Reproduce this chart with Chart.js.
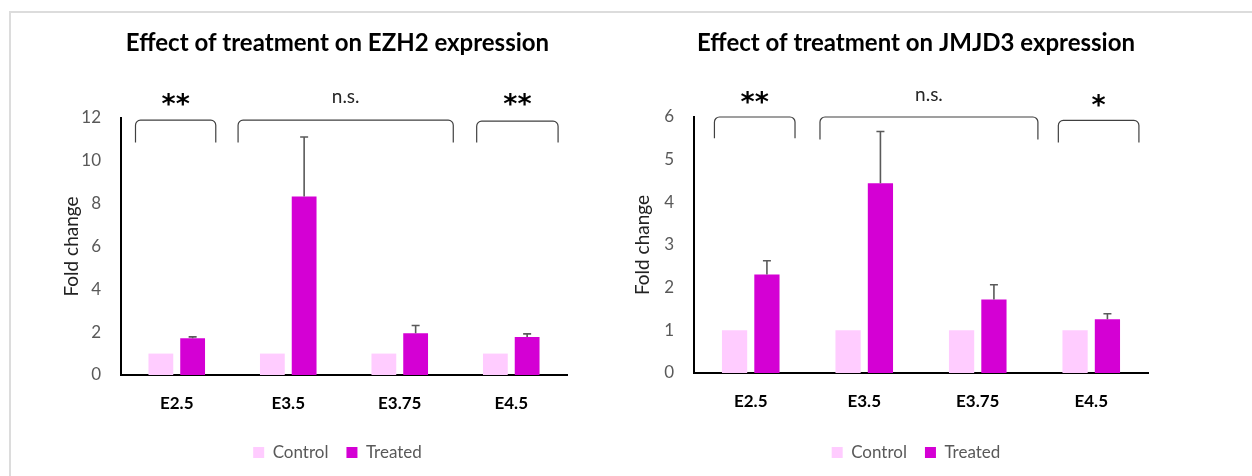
<!DOCTYPE html>
<html>
<head>
<meta charset="utf-8">
<script src="https://cdn.jsdelivr.net/npm/chart.js@4.4.1/dist/chart.umd.min.js"></script>
<style>
  body { margin: 0; background: #fff; }
  #frame { position: absolute; left: 9px; top: 11px; right: 0; bottom: 0; border-left: 2px solid #dcdcdc; border-top: 2px solid #dcdcdc; }
  canvas { position: absolute; top: 0; }
  #c1 { left: 0; }
  #c2 { left: 626px; }
</style>
</head>
<body>
<div id="frame"></div>
<canvas id="c1" width="626" height="476"></canvas>
<canvas id="c2" width="626" height="476"></canvas>
<script>
// categories
const stages = ['E2.5', 'E3.5', 'E3.75', 'E4.5'];

// EZH2
const ezh2Control = [1, 1, 1, 1];
const ezh2Treated = [1.72, 8.33, 1.95, 1.78];
const ezh2Error = [0.06, 2.78, 0.36, 0.14];
const ezh2Max = 12, ezh2Step = 2;
// brackets: [from, to] in category units, top / leg end in fold change
const ezh2Brackets = [[-0.37, 0.35], [0.55, 2.48], [2.69, 3.42]];
const ezh2BracketTop = [11.9, 11.9, 11.85];
const ezh2BracketLeg = [10.86, 10.86, 10.86];
const ezh2Sig = ['**', 'n.s.', '**'];
const ezh2SigY = [12.85, 13.0, 12.85];

// JMJD3
const jmjd3Control = [1, 1, 1, 1];
const jmjd3Treated = [2.31, 4.45, 1.72, 1.26];
const jmjd3Error = [0.32, 1.21, 0.35, 0.13];
const jmjd3Max = 6, jmjd3Step = 1;
const jmjd3Brackets = [[-0.32, 0.39], [0.61, 2.53], [2.71, 3.42]];
const jmjd3BracketTop = [6.0, 6.0, 5.92];
const jmjd3BracketLeg = [5.5, 5.47, 5.4];
const jmjd3Sig = ['**', 'n.s.', '*'];
const jmjd3SigY = [6.45, 6.53, 6.38];

const FONT = 'Lato, "Open Sans", sans-serif';

// error bars + significance brackets
const annotate = {
  id: 'annotate',
  afterDatasetsDraw(chart, args, opts) {
    const { ctx } = chart;
    const x = chart.scales.x, y = chart.scales.y;
    const meta = chart.getDatasetMeta(1);
    const vals = chart.data.datasets[1].data;
    ctx.save();
    ctx.strokeStyle = '#5a5a5a';
    ctx.lineWidth = 1.6;
    opts.errors.forEach((e, i) => {
      const bar = meta.data[i];
      const yt = y.getPixelForValue(vals[i] + e);
      ctx.beginPath();
      ctx.moveTo(bar.x, bar.y);
      ctx.lineTo(bar.x, yt);
      ctx.moveTo(bar.x - 4, yt);
      ctx.lineTo(bar.x + 4, yt);
      ctx.stroke();
    });

    ctx.strokeStyle = '#404040';
    ctx.lineWidth = 1.2;
    opts.brackets.forEach((b, i) => {
      const x0 = x.getPixelForValue(b[0]), x1 = x.getPixelForValue(b[1]);
      const yt = y.getPixelForValue(opts.tops[i]), yl = y.getPixelForValue(opts.legs[i]);
      const r = 5;
      ctx.beginPath();
      ctx.moveTo(x0, yl);
      ctx.lineTo(x0, yt + r);
      ctx.arcTo(x0, yt, x0 + r, yt, r);
      ctx.lineTo(x1 - r, yt);
      ctx.arcTo(x1, yt, x1, yt + r, r);
      ctx.lineTo(x1, yl);
      ctx.stroke();

      const lab = opts.labels[i];
      const ns = lab === 'n.s.';
      ctx.fillStyle = ns ? '#262626' : '#000';
      ctx.font = ns ? '19px ' + FONT : 'bold 27px "DejaVu Sans", ' + FONT;
      ctx.textAlign = 'center';
      ctx.textBaseline = 'middle';
      ctx.fillText(lab, (x0 + x1) / 2, y.getPixelForValue(opts.labelY[i]) + (ns ? 0 : 6));
    });
    ctx.restore();
  }
};

function makeChart(canvas, cfg) {
  return new Chart(canvas, {
    type: 'bar',
    data: {
      labels: stages,
      datasets: [
        { label: 'Control', data: cfg.control, backgroundColor: '#ffccff', borderWidth: 0 },
        { label: 'Treated', data: cfg.treated, backgroundColor: '#d400d4', borderWidth: 0 }
      ]
    },
    options: {
      responsive: false,
      animation: false,
      categoryPercentage: 0.57,
      barPercentage: 0.78,
      layout: { padding: { left: cfg.padLeft, right: cfg.padRight, top: 0, bottom: 5 } },
      scales: {
        x: {
          grid: { display: false },
          border: { display: true, color: '#000', width: 2 },
          ticks: { color: '#000', padding: 10, font: { family: FONT, size: 17, weight: 'bold' } },
          afterFit: s => { s.height = cfg.xHeight; }
        },
        y: {
          min: 0,
          max: cfg.max,
          grid: { display: false },
          border: { display: true, color: '#000', width: 2 },
          ticks: { stepSize: cfg.step, color: '#595959', padding: 12, font: { family: FONT, size: 17 } },
          title: { display: true, text: 'Fold change', color: '#222', padding: { top: 5, bottom: 0 }, font: { family: FONT, size: 19 } },
          afterFit: s => { s.width = cfg.yWidth; }
        },
        y2: {
          position: 'right',
          display: true,
          grid: { display: false },
          border: { display: false },
          ticks: { display: false },
          afterFit: s => { s.width = cfg.rightGap; }
        }
      },
      plugins: {
        title: {
          display: true,
          text: cfg.title,
          color: '#000',
          font: { family: FONT, size: 24, weight: 'bold' },
          padding: { top: 29, bottom: cfg.titleBottom }
        },
        legend: {
          position: 'bottom',
          labels: { boxWidth: 11, boxHeight: 11, padding: 18, color: '#595959', font: { family: FONT, size: 17 } }
        },
        tooltip: { enabled: false },
        annotate: {
          errors: cfg.errors, brackets: cfg.brackets, tops: cfg.tops, legs: cfg.legs,
          labels: cfg.sig, labelY: cfg.sigY
        }
      }
    },
    plugins: [annotate]
  });
}

makeChart(document.getElementById('c1'), {
  title: 'Effect of treatment on EZH2 expression',
  control: ezh2Control, treated: ezh2Treated, errors: ezh2Error,
  max: ezh2Max, step: ezh2Step,
  brackets: ezh2Brackets, tops: ezh2BracketTop, legs: ezh2BracketLeg, sig: ezh2Sig, sigY: ezh2SigY,
  padLeft: 55, padRight: 6, yWidth: 66, rightGap: 53,
  titleBottom: 60.2, xHeight: 51
});

makeChart(document.getElementById('c2'), {
  title: 'Effect of treatment on JMJD3 expression',
  control: jmjd3Control, treated: jmjd3Treated, errors: jmjd3Error,
  max: jmjd3Max, step: jmjd3Step,
  brackets: jmjd3Brackets, tops: jmjd3BracketTop, legs: jmjd3BracketLeg, sig: jmjd3Sig, sigY: jmjd3SigY,
  padLeft: 0, padRight: 46, yWidth: 68, rightGap: 58,
  titleBottom: 59.2, xHeight: 53
});
</script>
</body>
</html>
